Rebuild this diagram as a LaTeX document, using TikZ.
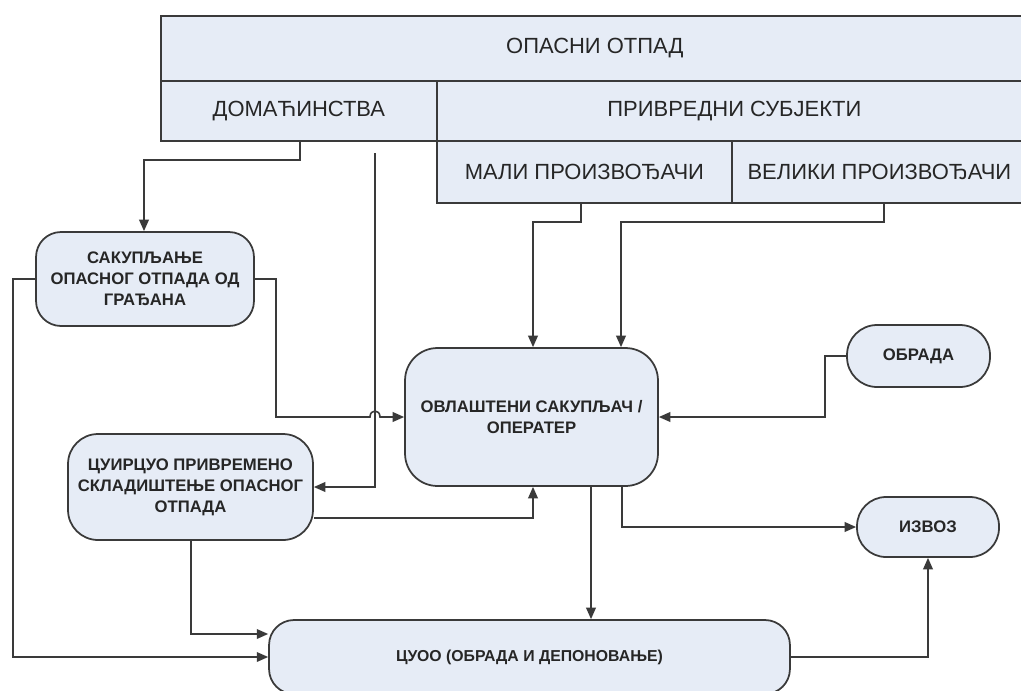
\documentclass[tikz,border=0pt]{standalone}
\usepackage{fontspec}
\setmainfont{Liberation Sans}
\usetikzlibrary{arrows.meta,calc}
\definecolor{boxfill}{HTML}{E6ECF6}
\definecolor{linec}{HTML}{3A3A3A}
\begin{document}
\begin{tikzpicture}[x=0.02cm,y=-0.02cm,
 tbl/.style={draw=linec,line width=1pt,fill=boxfill,anchor=north west,inner sep=0pt,font=\fontsize{12.5}{15}\selectfont,text=black!85},
 rbox/.style={draw=linec,line width=1pt,fill=boxfill,align=center,inner sep=0pt,font=\bfseries\fontsize{9.5}{12}\selectfont,text=black!85},
 arr/.style={draw=linec,line width=0.9pt,-{Triangle[length=6.5pt,width=5.5pt]}}]
\useasboundingbox (0,0) rectangle (1021,690);
% table
\node[tbl,minimum width=17.36cm,minimum height=1.3cm] (top) at (160,15) {ОПАСНИ ОТПАД};
\node[tbl,minimum width=5.52cm,minimum height=1.2cm] (dom) at (160,80) {ДОМАЋИНСТВА};
\node[tbl,minimum width=11.9cm,minimum height=1.2cm] (priv) at (436,80) {ПРИВРЕДНИ СУБЈЕКТИ};
\node[tbl,minimum width=5.9cm,minimum height=1.24cm] (mali) at (436,140) {МАЛИ ПРОИЗВОЂАЧИ};
\node[tbl,minimum width=5.9cm,minimum height=1.24cm] (vel) at (731,140) {ВЕЛИКИ ПРОИЗВОЂАЧИ};
% process boxes
\node[rbox,minimum width=4.36cm,minimum height=1.88cm,rounded corners=0.5cm] (sak) at (145,279) {САКУПЉАЊЕ\\ОПАСНОГ ОТПАДА ОД\\ГРАЂАНА};
\node[rbox,minimum width=4.9cm,minimum height=2.12cm,rounded corners=0.6cm] (cuir) at (190.5,487) {ЦУИРЦУО ПРИВРЕМЕНО\\СКЛАДИШТЕЊЕ ОПАСНОГ\\ОТПАДА};
\node[rbox,minimum width=5.06cm,minimum height=2.76cm,rounded corners=0.65cm] (ovl) at (531.5,417) {ОВЛАШТЕНИ САКУПЉАЧ /\\ОПЕРАТЕР};
\node[rbox,minimum width=2.86cm,minimum height=1.24cm,rounded corners=0.6cm] (obr) at (918.5,356) {ОБРАДА};
\node[rbox,minimum width=2.84cm,minimum height=1.2cm,rounded corners=0.58cm] (izv) at (928,527) {ИЗВОЗ};
\node[rbox,minimum width=10.42cm,minimum height=1.48cm,rounded corners=0.5cm,font=\bfseries\fontsize{9}{11}\selectfont] (cuoo) at (529.5,657) {ЦУОО (ОБРАДА И ДЕПОНОВАЊЕ)};
% connectors
\draw[arr] (300,0 |- dom.south) -- (300,160) -- (144,160) -- (144,0 |- sak.north);
\coordinate (free) at (375,153);
\draw[arr] (free) |- (cuir.east);
\draw[arr] (sak.east) -- (276,279) -- (276,417) -- (370,417) .. controls (370,409) and (380,409) .. (380,417) -- (ovl.west);
\draw[arr] (sak.west) -- (13,279) -- (13,657) -- (cuoo.west);
\draw[arr] (cuir.east |- 0,518) -- (533,518) -- (533,0 |- ovl.south);
\draw[arr] (191,0 |- cuir.south) -- (191,634) -- (cuoo.west |- 0,634);
\draw[arr] (581,0 |- mali.south) -- (581,222) -- (533,222) -- (533,0 |- ovl.north);
\draw[arr] (884,0 |- vel.south) -- (884,222) -- (621,222) -- (621,0 |- ovl.north);
\draw[arr] (obr.west) -- (825,356) -- (825,417) -- (ovl.east);
\draw[arr] (622,0 |- ovl.south) -- (622,527) -- (izv.west);
\draw[arr] (591,0 |- ovl.south) -- (591,0 |- cuoo.north);
\draw[arr] (cuoo.east) -- (928,657) -- (928,0 |- izv.south);
\end{tikzpicture}
\end{document}
